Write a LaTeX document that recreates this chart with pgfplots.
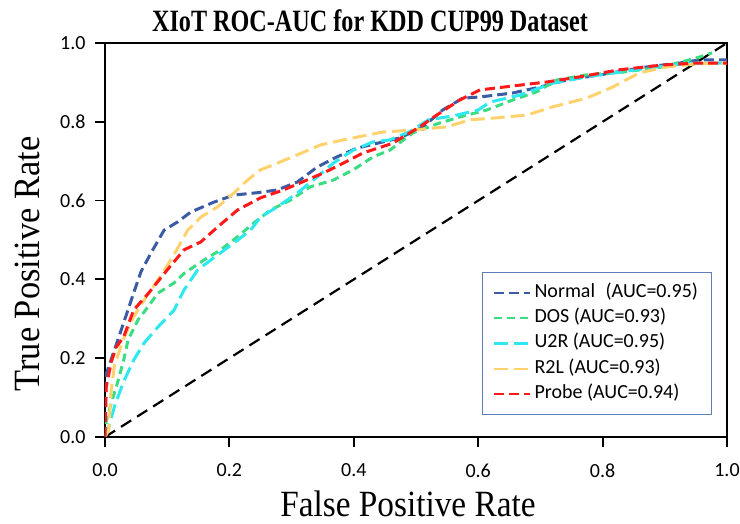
\documentclass[border=0pt]{standalone}
\usepackage{pgfplots}
\pgfplotsset{compat=1.18}
\usepackage{fontspec}
\setmainfont{Liberation Serif}
\newfontfamily\carlito{Carlito}
\definecolor{cNormal}{RGB}{59,91,165}
\definecolor{cDOS}{RGB}{60,220,130}
\definecolor{cU2R}{RGB}{46,232,240}
\definecolor{cR2L}{RGB}{255,210,110}
\definecolor{cProbe}{RGB}{255,25,25}
\definecolor{cLegBorder}{RGB}{95,125,185}
\begin{document}
\begin{tikzpicture}
\path[use as bounding box] (-105pt,-87pt) rectangle (635pt,437pt);
\begin{axis}[
  at={(0pt,0pt)}, anchor=south west,
  scale only axis, width=622pt, height=394pt,
  xmin=0, xmax=1, ymin=0, ymax=1,
  xtick={0,0.2,0.4,0.6,0.8,1.0},
  ytick={0,0.2,0.4,0.6,0.8,1.0},
  tick pos=left, tick align=outside,
  major tick length=10pt,
  every tick/.style={black, line width=1.8pt},
  axis line style={line width=1.8pt},
  /pgf/number format/assume math mode=true,
  /pgf/number format/fixed,
  /pgf/number format/fixed zerofill,
  /pgf/number format/precision=1,
  ticklabel style={font=\carlito\fontsize{20}{20}\selectfont},
  xticklabel style={yshift=-13pt},
  yticklabel style={xshift=-6pt},
  legend style={at={(0.976,0.056)}, anchor=south east, draw=cLegBorder, line width=1pt,
    font=\carlito\fontsize{20}{20}\selectfont, inner xsep=10pt, inner ysep=8pt, row sep=0pt,
    nodes={text height=13.5pt, text depth=4.5pt, inner sep=3.6pt}},
  legend cell align=left,
  legend image code/.code={\draw[#1, line width=2.2pt] (0pt,0pt) -- (36pt,0pt);},
]
\addplot[black, line width=2.2pt, dash pattern=on 12pt off 7pt, forget plot] coordinates {(0,0) (1,1)};
\addplot[cNormal, line width=3pt, dash pattern=on 10pt off 5pt] coordinates {
(0,0) (0.002,0.16) (0.015,0.22) (0.03,0.29) (0.047,0.37) (0.058,0.42) (0.075,0.47) (0.095,0.525) (0.117,0.546) (0.138,0.571) (0.175,0.596) (0.207,0.614) (0.245,0.62) (0.277,0.627) (0.309,0.647) (0.341,0.685) (0.373,0.711) (0.405,0.733) (0.447,0.749) (0.474,0.759) (0.511,0.787) (0.543,0.83) (0.575,0.86) (0.603,0.863) (0.655,0.873) (0.699,0.888) (0.742,0.906) (0.795,0.919) (0.87,0.939) (0.923,0.949) (0.955,0.957) (1.0,0.957)};
\addlegendentry{Normal\hspace{0.3em} (AUC=0.95)}
\addplot[cDOS, line width=3pt, dash pattern=on 8pt off 5pt] coordinates {
(0,0) (0.002,0.04) (0.01,0.086) (0.02,0.137) (0.03,0.195) (0.037,0.246) (0.053,0.297) (0.069,0.33) (0.085,0.365) (0.111,0.391) (0.127,0.415) (0.159,0.449) (0.186,0.475) (0.213,0.508) (0.239,0.543) (0.266,0.576) (0.298,0.601) (0.33,0.635) (0.367,0.652) (0.399,0.678) (0.431,0.711) (0.458,0.728) (0.495,0.772) (0.538,0.797) (0.57,0.812) (0.614,0.83) (0.655,0.855) (0.694,0.876) (0.726,0.906) (0.774,0.919) (0.832,0.926) (0.896,0.939) (0.955,0.964) (0.976,0.975)};
\addlegendentry{DOS (AUC=0.93)}
\addplot[cU2R, line width=3pt, dash pattern=on 14pt off 6pt] coordinates {
(0,0) (0.006,0.025) (0.015,0.076) (0.029,0.137) (0.046,0.195) (0.063,0.239) (0.085,0.279) (0.111,0.322) (0.127,0.373) (0.149,0.424) (0.181,0.462) (0.207,0.492) (0.234,0.525) (0.25,0.558) (0.277,0.584) (0.309,0.619) (0.341,0.66) (0.367,0.695) (0.399,0.728) (0.431,0.749) (0.458,0.754) (0.49,0.775) (0.52,0.805) (0.56,0.815) (0.6,0.83) (0.619,0.85) (0.667,0.868) (0.72,0.898) (0.774,0.914) (0.827,0.926) (0.886,0.939) (0.939,0.949) (1.0,0.949)};
\addlegendentry{U2R (AUC=0.95)}
\addplot[cR2L, line width=3pt, dash pattern=on 14pt off 6pt] coordinates {
(0,0) (0.006,0.018) (0.01,0.12) (0.015,0.18) (0.029,0.246) (0.046,0.305) (0.07,0.365) (0.09,0.41) (0.11,0.46) (0.133,0.525) (0.154,0.558) (0.181,0.584) (0.207,0.619) (0.229,0.652) (0.25,0.678) (0.277,0.695) (0.309,0.716) (0.346,0.741) (0.383,0.754) (0.421,0.766) (0.447,0.774) (0.495,0.779) (0.549,0.787) (0.587,0.805) (0.63,0.81) (0.678,0.817) (0.72,0.838) (0.774,0.86) (0.816,0.888) (0.859,0.924) (0.902,0.939) (0.95,0.947) (1.0,0.949)};
\addlegendentry{R2L (AUC=0.93)}
\addplot[cProbe, line width=3pt, dash pattern=on 10pt off 5pt] coordinates {
(0,0) (0.002,0.127) (0.01,0.19) (0.018,0.228) (0.03,0.254) (0.046,0.322) (0.07,0.365) (0.1,0.424) (0.127,0.475) (0.154,0.495) (0.181,0.533) (0.213,0.576) (0.25,0.607) (0.287,0.627) (0.314,0.645) (0.351,0.67) (0.383,0.695) (0.415,0.721) (0.454,0.741) (0.463,0.746) (0.506,0.787) (0.538,0.822) (0.57,0.855) (0.603,0.881) (0.63,0.886) (0.667,0.893) (0.71,0.901) (0.763,0.914) (0.827,0.932) (0.896,0.944) (0.95,0.949) (1.0,0.949)};
\addlegendentry{Probe (AUC=0.94)}
\end{axis}
\node[anchor=base] at (265pt,405pt) {\scalebox{0.78}[1]{\fontsize{31}{31}\selectfont\bfseries XIoT ROC-AUC for KDD CUP99 Dataset}};
\node[anchor=base] at (303pt,-80pt) {\scalebox{0.9}[1]{\fontsize{37}{37}\selectfont False Positive Rate}};
\node[anchor=base, rotate=90] at (-65pt,173pt) {\scalebox{0.93}[1]{\fontsize{37}{37}\selectfont True Positive Rate}};
\end{tikzpicture}
\end{document}
